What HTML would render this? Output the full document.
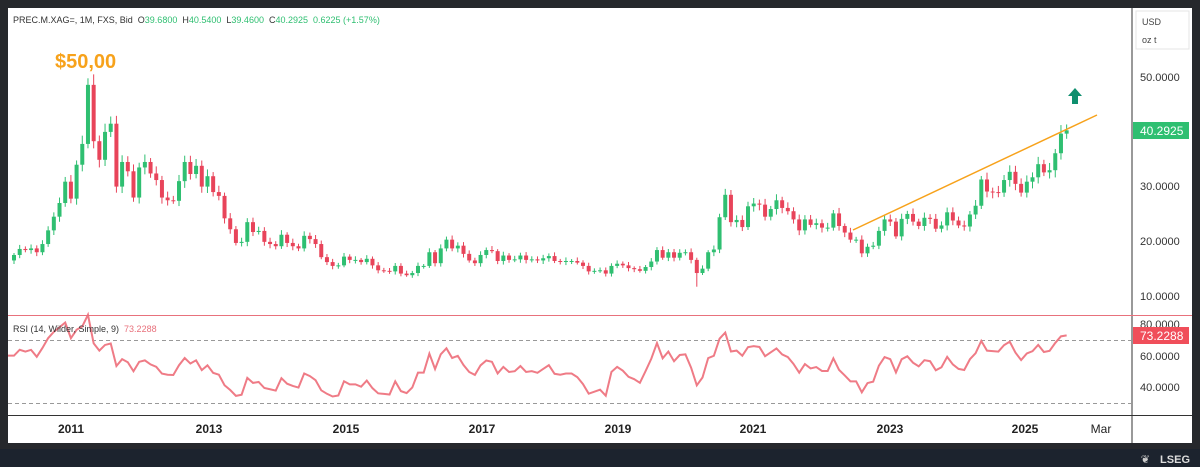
<!DOCTYPE html>
<html><head><meta charset="utf-8"><style>
html,body{margin:0;padding:0;background:#26282c;width:1200px;height:467px;overflow:hidden;font-family:"Liberation Sans",sans-serif}
</style></head><body>
<svg id="s" width="1200" height="467" xmlns="http://www.w3.org/2000/svg" style="position:absolute;left:0;top:0">
<rect x="0" y="0" width="1200" height="467" fill="#26282c"/>
<rect x="0" y="449" width="1200" height="18" fill="#1c232e"/>
<rect x="8" y="8" width="1184" height="435" fill="#ffffff"/>
<line x1="1132" y1="8" x2="1132" y2="443" stroke="#333" stroke-width="1"/>
<line x1="8" y1="415.5" x2="1192" y2="415.5" stroke="#333" stroke-width="1"/>
<line x1="8" y1="340.5" x2="1132" y2="340.5" stroke="#999" stroke-dasharray="4,3"/>
<line x1="8" y1="403.5" x2="1132" y2="403.5" stroke="#999" stroke-dasharray="4,3"/>
<rect x="1136" y="11" width="53" height="38" fill="#fff" stroke="#e4e4e4"/>
<text x="1142" y="25" font-size="9" fill="#444">USD</text>
<text x="1142" y="43" font-size="9" fill="#444">oz t</text>
<g font-size="11" fill="#333">
<text x="1140" y="81">50.0000</text>
<text x="1140" y="190">30.0000</text>
<text x="1140" y="245">20.0000</text>
<text x="1140" y="300">10.0000</text>
<text x="1140" y="328">80.0000</text>
<text x="1140" y="360">60.0000</text>
<text x="1140" y="391">40.0000</text>
</g>
<rect x="1133" y="122" width="56" height="17" fill="#2fbf71"/>
<text x="1140" y="135" font-size="12" fill="#fff">40.2925</text>
<rect x="1133" y="327" width="56" height="17" fill="#f04e5a"/>
<text x="1140" y="340" font-size="12" fill="#fff">73.2288</text>
<g font-size="12" font-weight="bold" fill="#222" text-anchor="middle">
<text x="71" y="433">2011</text><text x="209" y="433">2013</text><text x="346" y="433">2015</text>
<text x="482" y="433">2017</text><text x="618" y="433">2019</text><text x="753" y="433">2021</text>
<text x="890" y="433">2023</text><text x="1025" y="433">2025</text>
<text x="1101" y="433" font-weight="normal">Mar</text>
</g>
<text x="13" y="23" font-size="9" fill="#333">PREC.M.XAG=, 1M, FXS, Bid&#160; O<tspan fill="#2fbf71">39.6800</tspan>&#160; H<tspan fill="#2fbf71">40.5400</tspan>&#160; L<tspan fill="#2fbf71">39.4600</tspan>&#160; C<tspan fill="#2fbf71">40.2925&#160; 0.6225 (+1.57%)</tspan></text>
<text x="55" y="68" font-size="20" font-weight="bold" fill="#f7a21b">$50,00</text>
<g id="c"></g>
<text x="13" y="332" font-size="9" fill="#333">RSI (14, Wilder, Simple, 9)&#160; <tspan fill="#e8717c">73.2288</tspan></text>
<line x1="8" y1="315.5" x2="1192" y2="315.5" stroke="#e8717c" stroke-width="1"/>
<line x1="853" y1="230" x2="1097" y2="115" stroke="#f7a21b" stroke-width="1.5"/>
<polygon points="1075,88 1082,96 1078,96 1078,104 1072,104 1072,96 1068,96" fill="#0e8f6e"/>
<text x="1190" y="463" font-size="11" font-weight="bold" fill="#ddd" text-anchor="end">LSEG</text>
<text x="1150" y="463" font-size="11" fill="#ccc" text-anchor="end">❦</text>
</svg>
<script>
var d=[17.5,18.6,18.4,18.7,18.0,19.5,22.0,24.5,27.0,30.9,
27.8,34.0,37.8,48.6,38.3,34.9,40.0,41.5,30.0,34.5,32.8,28.0,
33.5,34.5,32.4,31.2,28.0,27.5,27.4,31.0,34.5,32.3,33.8,30.0,
31.9,29.0,28.3,24.2,22.2,19.7,19.9,23.5,21.7,21.9,19.9,19.5,
19.1,21.2,19.7,19.1,18.7,21.0,20.4,19.5,17.1,16.2,15.5,15.6,
17.2,16.6,16.6,16.2,16.8,15.6,14.7,14.6,14.5,15.5,14.1,13.8,
14.2,15.5,15.5,18.0,16.0,18.7,20.3,18.7,19.2,17.7,16.5,16.0,
17.5,18.4,18.2,16.4,17.4,16.6,16.7,17.4,16.6,16.7,16.5,16.9,
17.3,16.4,16.3,16.4,16.4,16.1,15.5,14.5,14.6,14.7,14.1,15.5,
15.9,15.6,15.1,14.9,14.6,15.3,16.3,18.4,17.0,18.0,17.0,17.9,
18.0,16.6,14.2,15.0,18.0,18.5,24.4,28.5,23.5,23.9,22.6,26.4,
26.9,26.7,24.5,25.9,27.5,26.1,25.5,24.0,22.0,24.0,23.0,23.3,
22.5,22.5,25.1,22.8,21.6,20.3,20.3,17.8,19.0,19.2,21.9,24.0,
23.6,20.9,24.1,25.0,23.6,22.8,24.3,24.1,22.3,22.9,25.3,23.8,
22.9,22.7,24.9,26.5,31.3,29.1,29.0,28.9,31.2,32.7,30.5,28.9,
30.9,31.7,34.1,32.6,33.0,36.1,39.68,40.29];
function X(i){return 14+i*5.69}
function Y(v){return 296-(v-10)*5.47}
var h='',prev=16.5;
for(var i=0;i<d.length;i++){var o=prev,c=d[i],up=c>=o,col=up?'#2fbf71':'#e8445a';
var hi=Math.max(o,c)*(1+0.02+0.02*Math.abs(Math.sin(i*1.7))),lo=Math.min(o,c)*(1-0.02-0.02*Math.abs(Math.cos(i*2.3)));
if(i==120)lo=11.7;if(i==13)hi=49.8;
var x=X(i);h+='<line x1="'+x+'" x2="'+x+'" y1="'+Y(hi)+'" y2="'+Y(lo)+'" stroke="'+col+'" stroke-width="1"/>';
var t=Y(Math.max(o,c)),b=Y(Math.min(o,c));h+='<rect x="'+(x-2)+'" y="'+t+'" width="4" height="'+Math.max(1,b-t)+'" fill="'+col+'"/>';prev=c;}
// RSI
var ag=0.03,al=0.025,pts=[];prev=16.5;
for(var i=0;i<d.length;i++){var ch=Math.log(d[i]/prev);prev=d[i];ag=(ag*9+Math.max(ch,0))/10;al=(al*9+Math.max(-ch,0))/10;
var r=100-100/(1+ag/al);r=50+(r-50)*0.85+2;if(i==13)r=86;r=Math.max(30,Math.min(86,r));pts.push(X(i)+','+(387-(r-40)*1.57));}
pts.unshift('8,'+pts[0].split(',')[1]);
h+='<polyline points="'+pts.join(' ')+'" fill="none" stroke="#ef7b86" stroke-width="2"/>';
document.getElementById('c').innerHTML=h;
</script>
</body></html>
